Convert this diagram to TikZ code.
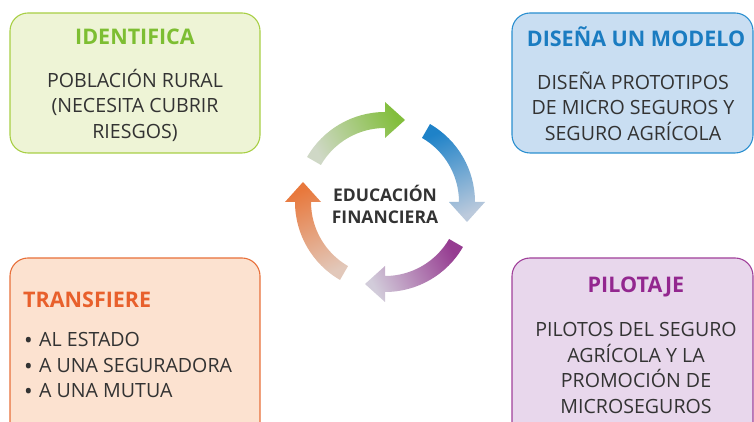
\documentclass[tikz,border=0pt]{standalone}
\usepackage{fontspec}
\setmainfont{Open Sans}
\usetikzlibrary{calc}
\definecolor{gfill}{HTML}{EEF4D6}
\definecolor{gline}{HTML}{A8CF45}
\definecolor{ghead}{HTML}{7DBE32}
\definecolor{bfill}{HTML}{C9DEF2}
\definecolor{bline}{HTML}{2A8FD0}
\definecolor{bhead}{HTML}{1A7CC1}
\definecolor{ofill}{HTML}{FCE2D0}
\definecolor{oline}{HTML}{E8703A}
\definecolor{ohead}{HTML}{E8602C}
\definecolor{pfill}{HTML}{E8D7EC}
\definecolor{pline}{HTML}{A0409A}
\definecolor{phead}{HTML}{93278F}
\definecolor{txt}{HTML}{333333}
\definecolor{gsat}{HTML}{82BE3C}
\definecolor{gpale}{HTML}{CFD8C6}
\definecolor{bsat}{HTML}{1E82C8}
\definecolor{bpale}{HTML}{BCCADC}
\definecolor{psat}{HTML}{963C91}
\definecolor{ppale}{HTML}{D2CCDA}
\definecolor{osat}{HTML}{E8783C}
\definecolor{opale}{HTML}{E2C8BA}
\newcommand{\bul}{\makebox[15pt][l]{\raisebox{-2.2pt}{\fontsize{23}{23}\selectfont•}}}
\begin{document}
\begin{tikzpicture}[x=1pt,y=1pt,
  box/.style={rounded corners=18pt, line width=1.1pt},
  headtext/.style={font=\fontsize{21.5}{24}\selectfont\bfseries},
  bodytext/.style={font=\fontsize{19.6}{25.5}\selectfont, text=txt, inner sep=0pt},
  centertext/.style={font=\fontsize{17.5}{22}\selectfont\bfseries, text=txt, align=center, inner sep=0pt}]
\useasboundingbox (0,0) rectangle (754,422);
\clip (0,0) rectangle (754,422);
% boxes
\draw[box, draw=gline, fill=gfill] (10,269) rectangle (260,409);
\draw[box, draw=bline, fill=bfill] (512,269) rectangle (753,409);
\draw[box, draw=oline, fill=ofill] (10,-30) rectangle (260,164);
\draw[box, draw=pline, fill=pfill] (512,-30) rectangle (753,164);
% texts
\node[headtext, text=ghead] (h1) at (135,385.5) {IDENTIFICA};
\node[bodytext, align=center] (b1) at (135,317) {POBLACIÓN RURAL\\(NECESITA CUBRIR\\RIESGOS)};
\node[headtext, text=bhead] (h2) at (636,385) {DISEÑA UN MODELO};
\node[bodytext, align=center] (b2) at (633,316) {DISEÑA PROTOTIPOS\\DE MICRO SEGUROS Y\\SEGURO AGRÍCOLA};
\node[headtext, text=ohead, anchor=west, inner sep=0pt] (h3) at (23,122) {TRANSFIERE};
\node[bodytext, align=left, anchor=west] (b3) at (24,56) {\bul AL ESTADO\\\bul A UNA SEGURADORA\\\bul A UNA MUTUA};
\node[headtext, text=phead] (h4) at (636,135) {PILOTAJE};
\node[bodytext, align=center] (b4) at (636,54) {PILOTOS DEL SEGURO\\AGRÍCOLA Y LA\\PROMOCIÓN DE\\MICROSEGUROS};
\node[centertext] (c) at (385,218) {EDUCACIÓN\\FINANCIERA};
% cycle arrows
\begin{scope}[shift={(385,220)}]
\foreach \a/\sat/\pale/\ang in {150/gsat/gpale/-63, 60/bsat/bpale/23, -30/psat/ppale/-63, -120/osat/opale/23}{
  \pgfmathsetmacro{\b}{\a-60}
  \pgfmathsetmacro{\t}{\a-150}
  \shade[top color=\sat, bottom color=\pale, shading angle=\ang]
    (\a:90) arc[start angle=\a, end angle=\b, radius=90]
    -- (\b:100) -- ($(\b:82)+(\t:20)$) -- (\b:64) -- (\b:74)
    arc[start angle=\b, end angle=\a, radius=74] -- cycle;
}
\end{scope}
\end{tikzpicture}
\end{document}
